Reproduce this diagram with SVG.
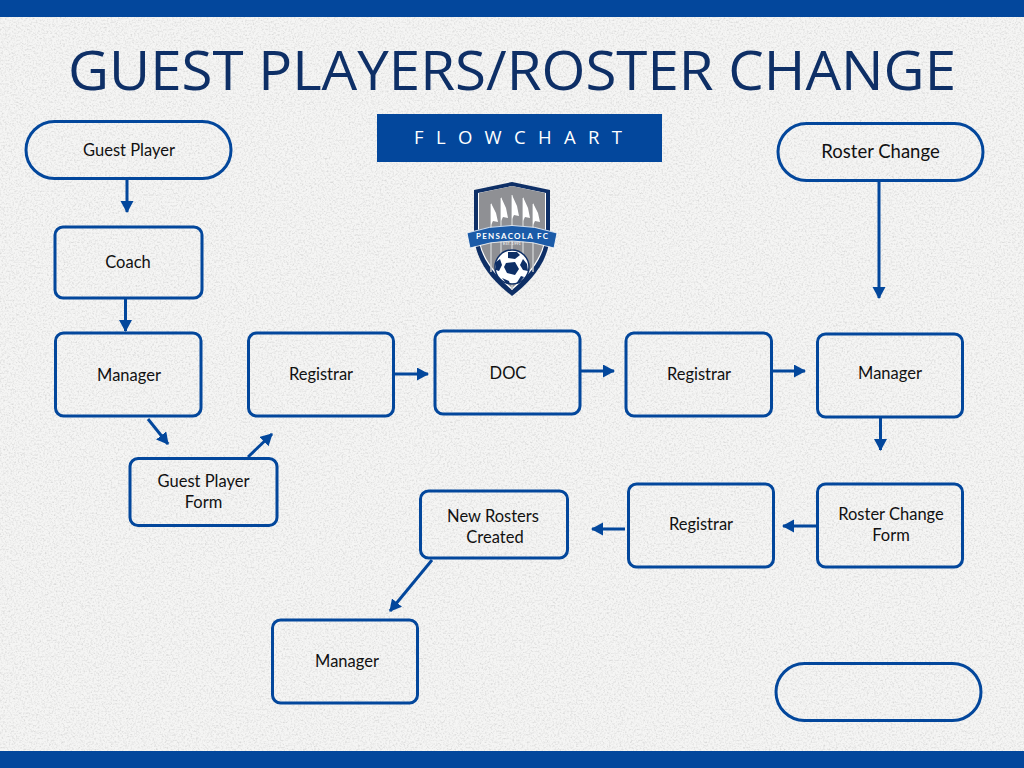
<svg xmlns="http://www.w3.org/2000/svg" width="1024" height="768" viewBox="0 0 1024 768">
<style>
.n{fill:none;stroke:#03479c;stroke-width:3}
.c{fill:none;stroke:#03479c;stroke-width:3}
.l{font-family:Lato,"Liberation Sans",sans-serif;font-size:16.500px;fill:#111;text-anchor:middle}
.bar{fill:#03479c}
.w{fill:#fff}
.d{fill:#0e2f66}
</style>
<defs>
<marker id="a" markerUnits="userSpaceOnUse" markerWidth="14" markerHeight="14" refX="11" refY="6.500" orient="auto"><path d="M0 0L12 6.500L0 13Z" fill="#03479c"/></marker>
<filter id="grain" x="0" y="0" width="100%" height="100%"><feTurbulence type="fractalNoise" baseFrequency="0.55" numOctaves="4" seed="4"/><feColorMatrix values="0 0 0 0 0.45 0 0 0 0 0.45 0 0 0 0 0.45 1.200 1.200 1.200 0 -1.650"/></filter>
</defs>
<rect width="1024" height="768" fill="#f5f5f4"/>
<rect width="1024" height="768" filter="url(#grain)" opacity="0.4"/>
<rect class="bar" width="1024" height="17"/>
<rect class="bar" y="751" width="1024" height="17"/>
<text x="512" y="90" text-anchor="middle" font-family="'Open Sans',sans-serif" font-size="54" fill="#0e2f66" textLength="888" lengthAdjust="spacingAndGlyphs">GUEST PLAYERS/ROSTER CHANGE</text>
<g id="subtitle"><rect class="bar" x="377" y="114" width="285" height="48"/><text x="414" y="144" font-family="'Open Sans',sans-serif" font-size="18.500" fill="#fff" textLength="208">FLOWCHART</text></g>
<g id="logo">
<path class="d" d="M512 182L550 190V232C550 262 530 282 512 296C494 282 474 262 474 232V190Z"/>
<path class="w" d="M512 186L546 193V232C546 258 527 277 512 290C497 277 478 258 478 232V193Z"/>
<path fill="#8f9094" d="M512 186L545 193V232C545 257 526 276 512 288C498 276 479 257 479 232V193Z"/>
<path stroke="#c9cacc" stroke-width="1.500" d="M491 204V272M501 198V280M512 195V290M523 198V280M533 204V272"/>
<path class="w" d="M491 203l5 10 2 9-5-1-2 4zM501 197l5 11 2 10-5-1-2 4zM512 195l5 11 2 10-5-1-2 4zM523 197l5 11 2 10-5-1-2 4zM533 203l5 10 2 9-5-1-2 4z"/>
<path fill="#1b5ba8" stroke="#fff" stroke-width="0.800" d="M467 233Q512 218 557 233L554 248Q512 234 470 248Z"/>
<text x="512" y="238.500" text-anchor="middle" font-family="Lato,sans-serif" font-size="8" font-weight="700" fill="#fff" textLength="72">PENSACOLA FC</text>
<text x="512" y="244.500" text-anchor="middle" font-family="Lato,sans-serif" font-size="4" fill="#fff">EST. 1991</text>
<circle cx="512" cy="267" r="17" class="w" stroke="#0e2f66" stroke-width="1.500"/>
<path class="d" d="M508 252l9 0 3 3-5 4-7-1zM506 263l9-1 4 7-4 6-8-2-3-6zM496 262l4-3 2 6-3 6-3-1zM523 259l4 5 1 7-5-1-3-5zM502 278l7 3 1 3-4-1zM521 276l3 1-5 6-3 1z"/>
</g>
<g id="connectors">
<path class="c" marker-end="url(#a)" d="M127 180V212"/>
<path class="c" marker-end="url(#a)" d="M125.500 298V331"/>
<path class="c" marker-end="url(#a)" d="M148 419L168 444"/>
<path class="c" marker-end="url(#a)" d="M248 457L272 434"/>
<path class="c" marker-end="url(#a)" d="M395 374H428"/>
<path class="c" marker-end="url(#a)" d="M581 371H614"/>
<path class="c" marker-end="url(#a)" d="M772 371H805"/>
<path class="c" marker-end="url(#a)" d="M879 181V298"/>
<path class="c" marker-end="url(#a)" d="M880.500 417V450"/>
<path class="c" marker-end="url(#a)" d="M816 526H783"/>
<path class="c" marker-end="url(#a)" d="M625 529H592"/>
<path class="c" marker-end="url(#a)" d="M432 560L390 611"/>
</g>
<g id="n1"><rect class="n" x="26" y="121.500" width="205" height="57" rx="28.500"/><text class="l" x="129" y="156">Guest Player</text></g>
<g id="n2"><rect class="n" x="55" y="227" width="147" height="71" rx="8"/><text class="l" x="128" y="268">Coach</text></g>
<g id="n3"><rect class="n" x="55.500" y="333" width="145.500" height="83" rx="8"/><text class="l" x="129" y="381">Manager</text></g>
<g id="n4"><rect class="n" x="130" y="458.500" width="147" height="67" rx="8"/><text class="l" x="203.500" y="487">Guest Player</text><text class="l" x="203.500" y="508">Form</text></g>
<g id="n5"><rect class="n" x="248.500" y="333" width="145" height="83" rx="8"/><text class="l" x="321" y="380">Registrar</text></g>
<g id="n6"><rect class="n" x="435" y="331" width="145" height="83" rx="8"/><text class="l" x="508" y="379">DOC</text></g>
<g id="n7"><rect class="n" x="626" y="333" width="145.500" height="83" rx="8"/><text class="l" x="699" y="380">Registrar</text></g>
<g id="n8"><rect class="n" x="817.500" y="334" width="145" height="83" rx="8"/><text class="l" x="890" y="379">Manager</text></g>
<g id="n9"><rect class="n" x="778" y="123.500" width="205" height="57" rx="28.500"/><text x="880.500" y="158" class="l" style="font-size:18.500px">Roster Change</text></g>
<g id="n10"><rect class="n" x="817.500" y="484" width="145" height="83" rx="8"/><text class="l" x="891" y="520">Roster Change</text><text class="l" x="891" y="541">Form</text></g>
<g id="n11"><rect class="n" x="628.500" y="484" width="145" height="83" rx="8"/><text class="l" x="701" y="530">Registrar</text></g>
<g id="n12"><rect class="n" x="420.500" y="491" width="147" height="67" rx="8"/><text class="l" x="493" y="522">New Rosters</text><text class="l" x="495" y="543">Created</text></g>
<g id="n13"><rect class="n" x="272.500" y="620" width="145" height="83" rx="8"/><text class="l" x="347" y="667">Manager</text></g>
<g id="n14"><rect class="n" x="776" y="663.500" width="205" height="57" rx="28.500"/></g>
</svg>
